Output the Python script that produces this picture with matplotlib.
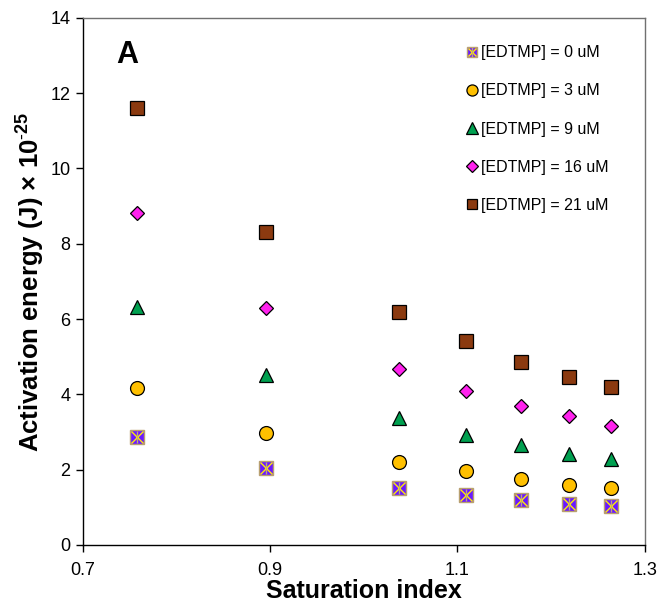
import numpy as np
import matplotlib.pyplot as plt
from matplotlib.legend_handler import HandlerTuple

plt.rcParams['font.family'] = ['Liberation Sans', 'DejaVu Sans']
plt.rcParams['mathtext.fontset'] = 'custom'
plt.rcParams['mathtext.rm'] = 'Liberation Sans'
plt.rcParams['mathtext.bf'] = 'Liberation Sans:bold'

# Data
si = [0.758, 0.895, 1.038, 1.109, 1.168, 1.219, 1.264]
e_0uM = [2.87, 2.05, 1.51, 1.33, 1.20, 1.09, 1.04]
e_3uM = [4.17, 2.98, 2.21, 1.97, 1.75, 1.59, 1.51]
e_9uM = [6.32, 4.52, 3.37, 2.92, 2.66, 2.42, 2.28]
e_16uM = [8.82, 6.30, 4.68, 4.09, 3.69, 3.43, 3.16]
e_21uM = [11.61, 8.32, 6.19, 5.42, 4.86, 4.46, 4.20]
labels = ['[EDTMP] = 0 uM', '[EDTMP] = 3 uM', '[EDTMP] = 9 uM',
          '[EDTMP] = 16 uM', '[EDTMP] = 21 uM']

fig = plt.figure(figsize=(6.64, 6.13), dpi=100)
ax = fig.add_axes([0.125, 0.111, 0.846, 0.860])

# 0 uM: purple square with yellow cross
sq, = ax.plot(si, e_0uM, 's', ms=9.5, mfc='#6a1aff', mec='#b8a070', mew=1.0, ls='none', zorder=3)
cx, = ax.plot(si, e_0uM, 'x', ms=8, mec='#ffee00', mew=1.0, ls='none', zorder=4)
vl, = ax.plot(si, e_0uM, '|', ms=9, mec='#c0a878', mew=1.0, ls='none', zorder=4)

h3, = ax.plot(si, e_3uM, 'o', ms=10, mfc='#ffc000', mec='black', mew=0.9, ls='none', zorder=3)
h9, = ax.plot(si, e_9uM, '^', ms=10, mfc='#00a050', mec='black', mew=0.9, ls='none', zorder=3)
h16, = ax.plot(si, e_16uM, 'D', ms=7.5, mfc='#ff22ee', mec='black', mew=0.9, ls='none', zorder=3)
h21, = ax.plot(si, e_21uM, 's', ms=9.5, mfc='#8b3a10', mec='black', mew=0.9, ls='none', zorder=3)

ax.set_xlim(0.7, 1.3)
ax.set_ylim(0, 14)
ax.set_xticks([0.7, 0.9, 1.1, 1.3])
ax.set_xticklabels(['0.7', '0.9', '1.1', '1.3'])
ax.set_yticks(range(0, 15, 2))
ax.tick_params(direction='out', length=5, width=1, labelsize=13, pad=4)
ax.xaxis.set_tick_params(pad=7)

for s in ['top', 'right']:
    ax.spines[s].set_color('#707070')
    ax.spines[s].set_linewidth(1.0)
for s in ['left', 'bottom']:
    ax.spines[s].set_color('black')
    ax.spines[s].set_linewidth(1.0)

ax.set_xlabel('Saturation index', fontsize=18, fontweight='bold', labelpad=0)
ax.set_ylabel('Activation energy (J) \u00d7 10$^{\\mathbf{\\text{-}25}}$', fontsize=18.5,
              fontweight='bold', labelpad=3)

ax.text(0.06, 0.915, 'A', transform=ax.transAxes, fontsize=22, fontweight='bold')

leg = ax.legend([(sq, cx, vl), h3, h9, h16, h21], labels,
                handler_map={tuple: HandlerTuple(ndivide=1)},
                loc='upper right', bbox_to_anchor=(0.962, 0.975), frameon=False,
                fontsize=11.5, labelspacing=1.45, handlelength=0.6, handletextpad=0.3,
                markerscale=0.8)

fig.savefig('out.png', dpi=100)
